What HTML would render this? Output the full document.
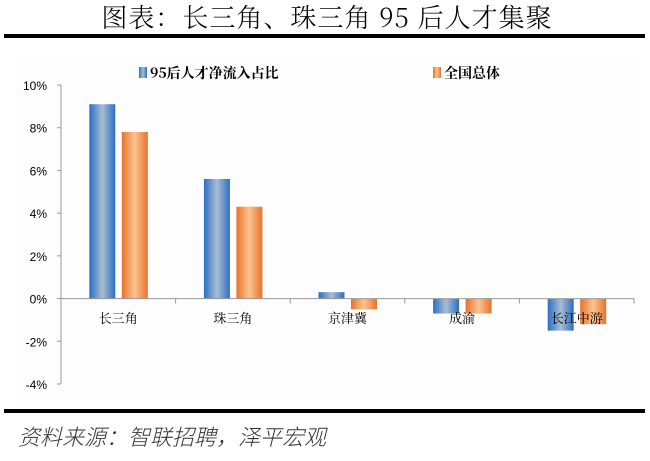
<!DOCTYPE html>
<html><head><meta charset="utf-8"><style>
body{margin:0;width:650px;height:456px;background:#fff;overflow:hidden;font-family:"Liberation Sans","Noto Sans CJK SC",sans-serif}
</style></head><body>
<svg width="650" height="456">
<defs>
<linearGradient id="gb" x1="0" x2="1"><stop offset="0" stop-color="#2c6fc4"/><stop offset="0.5" stop-color="#a9bdd2"/><stop offset="1" stop-color="#2c6fc4"/></linearGradient>
<linearGradient id="go" x1="0" x2="1"><stop offset="0" stop-color="#e8722a"/><stop offset="0.5" stop-color="#fcc491"/><stop offset="1" stop-color="#e8722a"/></linearGradient>
</defs>
<text x="327" y="27" text-anchor="middle" font-size="26" letter-spacing="1" font-family="'Noto Serif CJK SC',serif" font-weight="300" fill="#000">图表：长三角、珠三角 95 后人才集聚</text>
<rect x="4" y="34" width="641" height="4" fill="#000"/>
<rect x="15" y="55" width="625" height="350" fill="#fdfdfd"/>
<rect x="4" y="409" width="641" height="4" fill="#000"/>
<text x="18" y="445" font-size="22" font-style="italic" fill="#333" font-family="'Noto Sans CJK SC',sans-serif" font-weight="300">资料来源：智联招聘，泽平宏观</text>
<g>
<rect x="139" y="67" width="8" height="11" fill="url(#gb)"/>
<text x="150" y="78" font-size="14" font-weight="bold" font-family="'Noto Serif CJK SC',serif">95后人才净流入占比</text>
<rect x="433" y="67" width="8" height="11" fill="url(#go)"/>
<text x="444" y="78" font-size="14" font-weight="bold" font-family="'Noto Serif CJK SC',serif">全国总体</text>
</g>
<g id="plot"></g>
</svg>
<script>
const categories=["长三角","珠三角","京津冀","成渝","长江中游"];
const series95=[9.1,5.6,0.3,-0.7,-1.5];
const seriesAll=[7.8,4.3,-0.5,-0.7,-1.2];
const ticks=[10,8,6,4,2,0,-2,-4];
const x0=61,x1=634,yMax=10,yMin=-4,yTop=85,yBot=384;
function y(v){return yTop+(yMax-v)*(yBot-yTop)/(yMax-yMin);}
const cw=(x1-x0)/categories.length;
function cx(i){return x0+cw*(i+0.5);}
const g=document.getElementById('plot');
const NS='http://www.w3.org/2000/svg';
function mk(t,a){const e=document.createElementNS(NS,t);for(const k in a)e.setAttribute(k,a[k]);g.appendChild(e);return e;}
let ax=mk('line',{x1:x0,x2:x0,y1:yTop,y2:yBot,stroke:'#999'});


ticks.forEach(t=>{
 const l=mk('line',{x1:x0-4,x2:x0,y1:y(t),y2:y(t),stroke:'#999'});
 
 
 const tx=mk('text',{x:x0-14,y:y(t)+5,'text-anchor':'end','font-size':12,fill:'#000'});
 tx.textContent=t+'%';
 
 
});
for(let i=0;i<categories.length;i++){
 const v1=series95[i],v2=seriesAll[i];
 const b1=mk('rect',{x:cx(i)-29,width:26,y:Math.min(y(v1),y(0)),height:Math.abs(y(v1)-y(0)),fill:'url(#gb)'});
 
 
 const b2=mk('rect',{x:cx(i)+3.5,width:26,y:Math.min(y(v2),y(0)),height:Math.abs(y(v2)-y(0)),fill:'url(#go)'});
 
 
 const lb=mk('text',{x:cx(i),y:323,'text-anchor':'middle','font-size':13,fill:'#000','font-family':"'Noto Serif CJK SC',serif"});
 lb.textContent=categories[i];
 
 
}
let xa=mk('line',{x1:x0,x2:x1,y1:y(0),y2:y(0),stroke:'#999'});


for(let i=0;i<=categories.length;i++){
 const t=mk('line',{x1:x0+cw*i,x2:x0+cw*i,y1:y(0),y2:y(0)+5,stroke:'#999'});
 
 
}
</script>
</body></html>
